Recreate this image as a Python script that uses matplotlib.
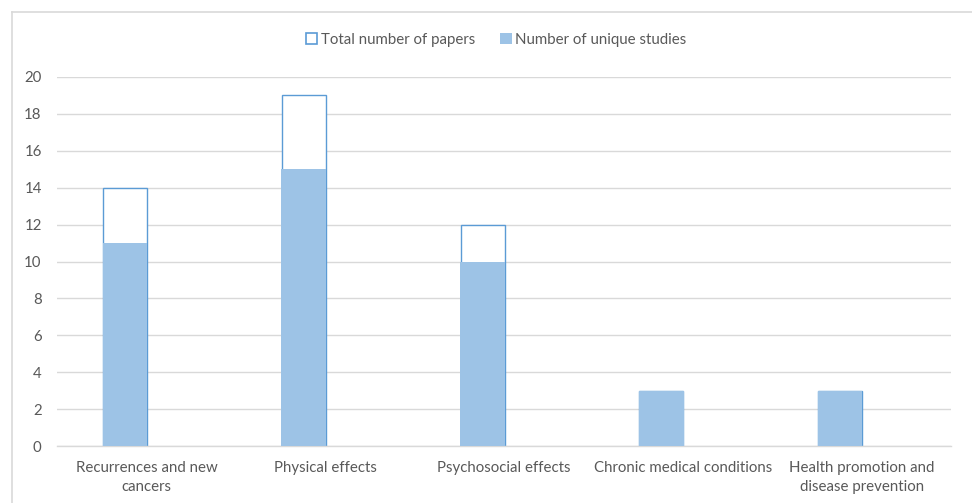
import matplotlib
matplotlib.use("Agg")
import matplotlib.pyplot as plt
import numpy as np
from matplotlib.patches import Rectangle
from matplotlib.lines import Line2D

categories = ["Recurrences and new\ncancers", "Physical effects", "Psychosocial effects",
              "Chronic medical conditions", "Health promotion and\ndisease prevention"]
total_papers = [14, 19, 12, 3, 3]
unique_studies = [11, 15, 10, 3, 3]
yticks = [0, 2, 4, 6, 8, 10, 12, 14, 16, 18, 20]

plt.rcParams['font.family'] = ['Lato', 'DejaVu Sans']
text_color = "#595959"
fill_color = "#9DC3E6"
edge_color = "#5B9BD5"
grid_color = "#D9D9D9"
fs = 10.8

fig = plt.figure(figsize=(9.72, 5.03), dpi=100)
# chart border (top and left visible)
fig.add_artist(Line2D([12/972, 1.0], [1-12/503, 1-12/503], color=grid_color, lw=1.2, transform=fig.transFigure))
fig.add_artist(Line2D([12/972, 12/972], [0, 1-12/503], color=grid_color, lw=1.2, transform=fig.transFigure))

ax = fig.add_axes([57/972, 1-446/503, (951-57)/972, (446-77)/503])
x = np.arange(len(categories))
w = 0.246
off = -0.12
ax.bar(x + off, total_papers, width=w, facecolor="white", edgecolor=edge_color, linewidth=1.0, zorder=2,
       label="Total number of papers")
ax.bar(x + off, unique_studies, width=w + 0.004, facecolor=fill_color, edgecolor="none", zorder=3,
       label="Number of unique studies")

ax.set_xlim(-0.5, len(categories) - 0.5)
ax.set_ylim(0, 20)
ax.set_yticks(yticks)
ax.set_yticklabels([str(v) for v in yticks], color=text_color, fontsize=fs)
ax.set_xticks(x)
ax.set_xticklabels(categories, color=text_color, fontsize=fs, linespacing=1.45)
ax.tick_params(axis='both', length=0)
ax.tick_params(axis='y', pad=11)
ax.tick_params(axis='x', pad=11)
ax.yaxis.grid(True, color=grid_color, linewidth=1.0, zorder=0)
ax.set_axisbelow(True)
for s in ['top', 'right', 'left']:
    ax.spines[s].set_visible(False)
ax.spines['bottom'].set_color(grid_color)
ax.spines['bottom'].set_linewidth(1.0)

handles = [Rectangle((0, 0), 1, 1, facecolor="white", edgecolor=edge_color, linewidth=1.2),
           Rectangle((0, 0), 1, 1, facecolor=fill_color, edgecolor="none")]
leg = fig.legend(handles, ["Total number of papers", "Number of unique studies"],
                 loc="center", bbox_to_anchor=(496/972, 1-40/503), ncol=2, frameon=False,
                 fontsize=fs, handlelength=0.75, handleheight=0.75, handletextpad=0.25,
                 columnspacing=1.7)
for t in leg.get_texts():
    t.set_color(text_color)

fig.savefig("out.png", dpi=100)
